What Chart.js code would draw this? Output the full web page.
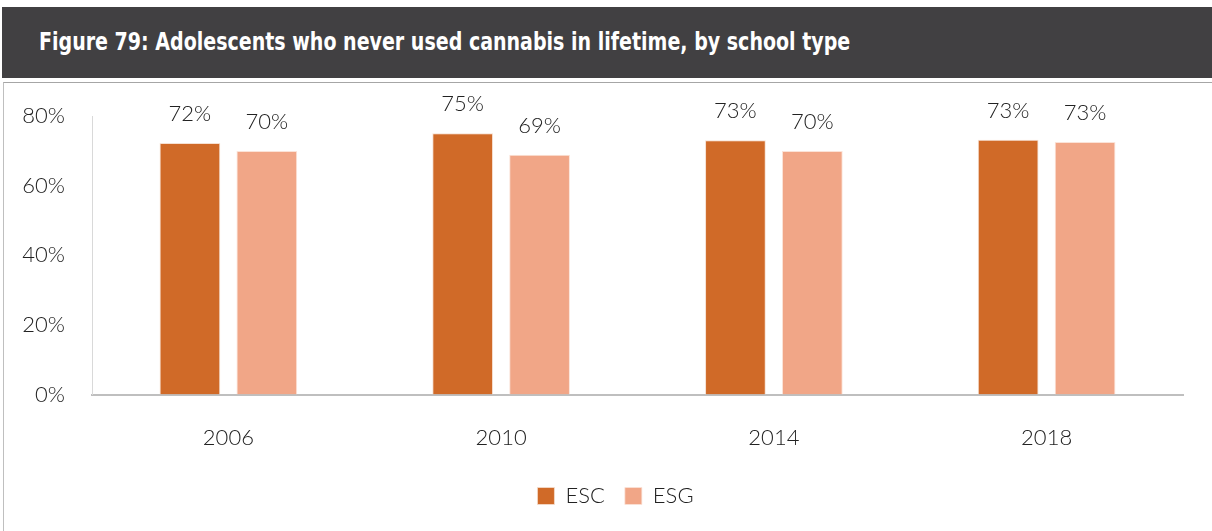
<!DOCTYPE html>
<html><head><meta charset="utf-8">
<script src="https://cdn.jsdelivr.net/npm/chart.js@4.4.0/dist/chart.umd.min.js"></script>
<style>
html,body{margin:0;padding:0;background:#fff;width:1212px;height:531px;overflow:hidden;}
#hdr{position:absolute;left:2px;top:7px;width:1210px;height:71px;background:#414042;}
#hdr span{position:absolute;left:37px;top:20px;color:#fff;font-family:"Liberation Sans Narrow","DejaVu Sans Condensed",sans-serif;font-weight:bold;font-size:25px;white-space:nowrap;transform:scaleX(0.846);transform-origin:left top;}
#box{position:absolute;left:3px;top:82px;width:1209px;height:460px;border-left:1px solid #bfbfbf;border-top:1px solid #a6a6a6;box-sizing:border-box;}
#wrap{position:absolute;left:4px;top:76px;width:1204px;height:455px;}
</style></head>
<body>
<div id="hdr"><span>Figure 79: Adolescents who never used cannabis in lifetime, by school type</span></div>
<div id="box"></div>
<div id="wrap"><canvas id="c"></canvas></div>
<script>
const categories = ["2006","2010","2014","2018"];
const escValues = [72.3, 75.1, 73.1, 73.2];
const esgValues = [70.0, 68.9, 70.0, 72.6];
const seriesNames = ["ESC","ESG"];
const yTicks = [0,20,40,60,80];

const FONT = "Lato, 'Open Sans', sans-serif";
const labelPlugin = {
  id:'barLabels',
  afterDatasetsDraw(chart){
    const ctx = chart.ctx;
    ctx.save();
    ctx.font = "300 22px " + FONT;
    ctx.fillStyle = "#222";
    ctx.textAlign = "center";
    ctx.textBaseline = "bottom";
    chart.data.datasets.forEach((ds,i)=>{
      chart.getDatasetMeta(i).data.forEach((bar,j)=>{
        ctx.fillText(Math.round(ds.data[j])+"%", bar.x, bar.y-18);
      });
    });
    ctx.restore();
  }
};
const legendShift = {
  id:'legendShift',
  afterLayout(chart){
    if(chart.legend){chart.legend.left+=22;chart.legend.right+=22;}
  }
};

new Chart(document.getElementById('c'),{
  type:'bar',
  data:{labels:categories,datasets:[
    {label:seriesNames[0],data:escValues,backgroundColor:'#D06A28',borderColor:'#f6e0d2',borderWidth:{top:1,left:1,right:1,bottom:0}},
    {label:seriesNames[1],data:esgValues,backgroundColor:'#F1A687',borderColor:'#fbe3d8',borderWidth:{top:1,left:1,right:1,bottom:0}}
  ]},
  options:{
    responsive:true,maintainAspectRatio:false,animation:false,
    layout:{padding:{top:10,right:25,bottom:14,left:0}},
    datasets:{bar:{categoryPercentage:0.564,barPercentage:0.79}},
    plugins:{
      legend:{position:'bottom',labels:{font:{family:FONT,size:22,weight:'300'},color:'#222',boxWidth:17,boxHeight:17,padding:20}},
      tooltip:{enabled:false},
      title:{display:false}
    },
    scales:{
      x:{grid:{display:false,drawTicks:false},border:{color:'#bfbfbf',width:2},
         afterFit(s){s.height-=16;},
         ticks:{font:{family:FONT,size:22,weight:'300'},color:'#222',padding:30}},
      y:{min:0,max:80,afterBuildTicks(s){s.ticks=yTicks.map(v=>({value:v}));},
         afterFit(s){s.width=88;},
         grid:{display:false,drawTicks:false},border:{color:'#d9d9d9',width:1},
         ticks:{font:{family:FONT,size:22,weight:'300'},color:'#222',padding:27,callback:v=>v+'%'}}
    }
  },
  plugins:[labelPlugin,legendShift]
});
</script>
</body></html>
